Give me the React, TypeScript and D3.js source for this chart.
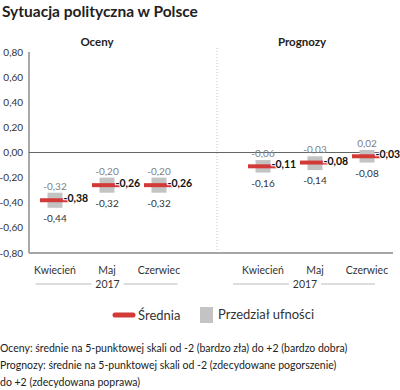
import React from 'react';
import * as d3 from 'd3';

const months = ['Kwiecień', 'Maj', 'Czerwiec'];
const panels = ['Oceny', 'Prognozy'];
const year = '2017';
const ocenyMean = [-0.38, -0.26, -0.26];
const ocenyLow = [-0.44, -0.32, -0.32];
const ocenyHigh = [-0.32, -0.2, -0.2];
const prognozyMean = [-0.11, -0.08, -0.03];
const prognozyLow = [-0.16, -0.14, -0.08];
const prognozyHigh = [-0.06, -0.03, 0.02];
const yTicks = [0.8, 0.6, 0.4, 0.2, 0, -0.2, -0.4, -0.6, -0.8];
const footnotes = [
  'Oceny: średnie na 5-punktowej skali od -2 (bardzo zła) do +2 (bardzo dobra)',
  'Prognozy: średnie na 5-punktowej skali od -2 (zdecydowane pogorszenie)',
  'do +2 (zdecydowana poprawa)',
];

const font = 'Lato, "Open Sans", sans-serif';
const red = '#d23a37';
const boxGray = '#c3c3c3';

const pl = d3.formatLocale({ decimal: ',', thousands: ' ', grouping: [3], currency: ['', ' zł'], minus: '-' });
const fmt = pl.format('.2f');

const App = () => {
  const left = 29;
  const right = 393;
  const top = 52;
  const bottom = 253;

  // 7 slots: 3 months, gap, 3 months
  const slots = ['o0', 'o1', 'o2', 'gap', 'p0', 'p1', 'p2'];
  const x = d3.scaleBand().domain(slots).range([left, right]).padding(0);
  const y = d3.scaleLinear().domain([-0.8, 0.8]).range([bottom, top]);
  const cx = (k: string) => (x(k) as number) + x.bandwidth() / 2;

  const rows = [
    ...months.map((m, i) => ({ key: 'o' + i, month: m, mean: ocenyMean[i], low: ocenyLow[i], high: ocenyHigh[i] })),
    ...months.map((m, i) => ({ key: 'p' + i, month: m, mean: prognozyMean[i], low: prognozyLow[i], high: prognozyHigh[i] })),
  ];

  const boxW = 15;
  const lineW = 30;
  const divX = 217;

  const groups = [
    { title: panels[0], titleX: 97, yearX: 107.5 },
    { title: panels[1], titleX: 302, yearX: 305 },
  ];

  return (
    <svg width={400} height={390} style={{ position: 'absolute', left: 0, top: 0 }} fontFamily={font}>
      <rect width={400} height={390} fill="#fff" />
      <text x={2} y={17} fontSize={15.5} fontWeight="bold" fill="#222">Sytuacja polityczna w Polsce</text>

      {groups.map(g => (
        <text key={g.title} x={g.titleX} y={46} textAnchor="middle" fontSize={11.5} fontWeight="bold" fill="#222">{g.title}</text>
      ))}

      {/* divider */}
      <line x1={divX} x2={divX} y1={48} y2={bottom} stroke="#c8c8c8" strokeDasharray="1,2" />

      {/* y axis */}
      <line x1={left} x2={left} y1={top} y2={bottom} stroke="#555" />
      {yTicks.map(t => (
        <text key={t} x={23} y={y(t)} dy="0.35em" textAnchor="end" fontSize={10} fill="#333">{fmt(t)}</text>
      ))}

      {/* zero line + bottom axis */}
      <line x1={left} x2={right} y1={y(0)} y2={y(0)} stroke="#666" strokeWidth={1.2} />
      <line x1={left} x2={right} y1={bottom} y2={bottom} stroke="#a6a6a6" strokeWidth={2} />

      {rows.map(r => {
        const c = cx(r.key);
        return (
          <g key={r.key}>
            <rect x={c - boxW / 2} y={y(r.high)} width={boxW} height={y(r.low) - y(r.high)} fill={boxGray} />
            <line x1={c - lineW / 2} x2={c + lineW / 2} y1={y(r.mean)} y2={y(r.mean)} stroke={red} strokeWidth={4} />
            <text x={c} y={y(r.high) - 3} textAnchor="middle" fontSize={10} fill="#808080">{fmt(r.high)}</text>
            <text x={c} y={y(r.low) + 14} textAnchor="middle" fontSize={10} fill="#333">{fmt(r.low)}</text>
            <text x={c + boxW / 2 + 1} y={y(r.mean)} dy="0.2em" fontSize={10.5} fontWeight="bold" fill="#111"
              stroke="#fff" strokeWidth={2} paintOrder="stroke">{fmt(r.mean)}</text>
            <text x={c} y={274} textAnchor="middle" fontSize={10.5} fill="#333">{r.month}</text>
          </g>
        );
      })}

      {groups.map(g => (
        <g key={'y' + g.title}>
          <line x1={g.yearX - 72} x2={g.yearX - 16} y1={284} y2={284} stroke="#bbb" />
          <line x1={g.yearX + 16} x2={g.yearX + 70} y1={284} y2={284} stroke="#bbb" />
          <text x={g.yearX} y={288} textAnchor="middle" fontSize={10.5} fill="#333">{year}</text>
        </g>
      ))}

      {/* legend */}
      <line x1={115} x2={133} y1={315} y2={315} stroke={red} strokeWidth={5} strokeLinecap="round" />
      <text x={138} y={320} fontSize={13} fill="#333">Średnia</text>
      <rect x={200} y={307} width={13} height={16} fill={boxGray} />
      <text x={218} y={319} fontSize={13} fill="#333">Przedział ufności</text>

      {footnotes.map((f, i) => (
        <text key={i} x={0} y={352 + i * 17} fontSize={10.5} fill="#222">{f}</text>
      ))}
    </svg>
  );
};

export default App;
